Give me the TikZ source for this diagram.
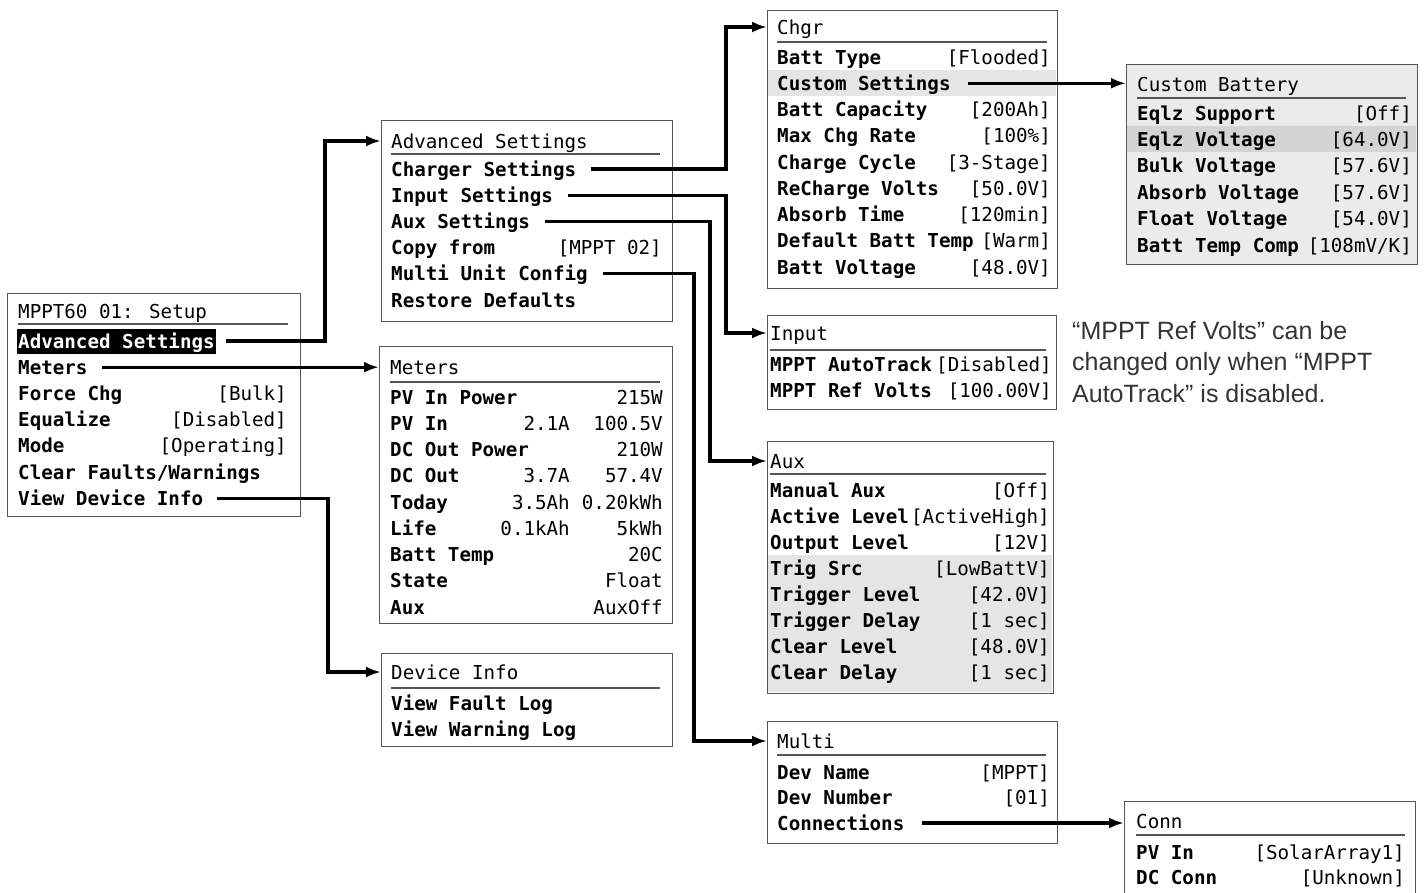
\documentclass[tikz,border=0pt]{standalone}
\usepackage{fontspec}
\usepackage{tikz}
\usetikzlibrary{arrows.meta}
\newfontfamily\lcdface{DejaVu Sans Mono}
\newfontfamily\noteface{Liberation Sans}
\newcommand{\lcdfont}{\lcdface\fontsize{19.2pt}{24pt}\selectfont}
\definecolor{frameGray}{HTML}{555555}
\definecolor{panelGray}{HTML}{EBEBEB}
\definecolor{bandGray}{HTML}{D4D4D4}
\definecolor{rowGray}{HTML}{E5E5E5}

\tikzset{
    lcd/.style={font=\lcdfont, inner sep=0pt, text height=14pt, text depth=0pt},
    ttl/.style={lcd, anchor=west, yshift=2pt},
    lbl/.style={lcd, anchor=west, font=\lcdfont\bfseries},
    val/.style={lcd, anchor=east},
    menubox/.style={draw=frameGray, line width=1.3pt, fill=white, anchor=north west, inner sep=0pt},
    rule/.style={draw=frameGray, line width=1.3pt},
    link/.style={line width=3.3pt, -{Latex[length=15pt,width=11pt]}},
    note/.style={anchor=north west, align=left, inner sep=0pt, text=black!80,
        font=\noteface\fontsize{25pt}{31.5pt}\selectfont},
}

\begin{document}
\begin{tikzpicture}[x=1pt, y=-1pt]
    \useasboundingbox (0,0) rectangle (1426,892);

    % menu frames
    \node[menubox, minimum width=293pt, minimum height=223pt] (setup) at (7,293) {};
    \node[menubox, minimum width=291pt, minimum height=201pt] (adv) at (381,120) {};
    \node[menubox, minimum width=293pt, minimum height=277pt] (meters) at (379,346) {};
    \node[menubox, minimum width=291pt, minimum height=93pt] (devinfo) at (381,653) {};
    \node[menubox, minimum width=290pt, minimum height=278pt] (chgr) at (767,10) {};
    \node[menubox, fill=panelGray, minimum width=291pt, minimum height=200pt] (custom) at (1126,64) {};
    \node[menubox, minimum width=289pt, minimum height=94pt] (input) at (767,315) {};
    \node[menubox, minimum width=286pt, minimum height=252pt] (aux) at (767,441) {};
    \node[menubox, minimum width=290pt, minimum height=122pt] (multi) at (767,721) {};
    \node[menubox, minimum width=291pt, minimum height=104pt] (conn) at (1124,801) {};

    % highlighted rows
    \fill[rowGray] (768,70) rectangle (1056,96);
    \fill[bandGray] (1127,126) rectangle (1416,152);
    \fill[rowGray] (768,555) rectangle (1052,692);

    % setup
    \node[ttl] (suttl) at (18,313) {MPPT60 01: Setup};
    \draw[rule] (18,324) -- (288,324);
    \node[lbl, fill=black, text=white, inner xsep=1.5pt, inner ysep=5.5pt] (su-1) at (16.5,341) {Advanced Settings};
    \foreach \lab/\val [count=\i from 2] in {Meters/, Force Chg/[Bulk], Equalize/[Disabled],
        Mode/[Operating], {Clear Faults/Warnings}/, View Device Info/} {
        \node[lbl] (su-\i) at (18,{341+26.2*(\i-1)}) {\lab};
        \node[val] at (287,{341+26.2*(\i-1)}) {\val};
    }

    % advanced settings
    \node[ttl] (advttl) at (391,143) {Advanced Settings};
    \draw[rule] (391,154) -- (660,154);
    \foreach \lab/\val [count=\i] in {Charger Settings/, Input Settings/, Aux Settings/,
        Copy from/[MPPT 02], Multi Unit Config/, Restore Defaults/} {
        \node[lbl] (adv-\i) at (391,{169+26.2*(\i-1)}) {\lab};
        \node[val] at (662,{169+26.2*(\i-1)}) {\val};
    }

    % meters
    \node[ttl] (metttl) at (390,369) {Meters};
    \draw[rule] (390,382) -- (660,382);
    \foreach \lab/\mid/\val [count=\i] in {PV In Power//215W, PV In/2.1A/100.5V,
        DC Out Power//210W, DC Out/3.7A/57.4V, Today/3.5Ah/0.20kWh, Life/0.1kAh/5kWh,
        Batt Temp//20C, State//Float, Aux//AuxOff} {
        \node[lbl] (met-\i) at (390,{397+26.25*(\i-1)}) {\lab};
        \node[val] at (570,{397+26.25*(\i-1)}) {\mid};
        \node[val] at (663,{397+26.25*(\i-1)}) {\val};
    }

    % device info
    \node[ttl] (devttl) at (391,674) {Device Info};
    \draw[rule] (391,688) -- (660,688);
    \node[lbl] (dev-1) at (391,703) {View Fault Log};
    \node[lbl] (dev-2) at (391,729) {View Warning Log};

    % charger
    \node[ttl] (chttl) at (777,29) {Chgr};
    \draw[rule] (777,42) -- (1047,42);
    \foreach \lab/\val [count=\i] in {Batt Type/[Flooded], Custom Settings/,
        Batt Capacity/[200Ah], Max Chg Rate/[100\%], Charge Cycle/[3-Stage],
        ReCharge Volts/[50.0V], Absorb Time/[120min], Default Batt Temp/[Warm],
        Batt Voltage/[48.0V]} {
        \node[lbl] (ch-\i) at (777,{57+26.25*(\i-1)}) {\lab};
        \node[val] at (1051,{57+26.25*(\i-1)}) {\val};
    }

    % custom battery
    \node[ttl] (custtl) at (1137,86) {Custom Battery};
    \draw[rule] (1137,98) -- (1406,98);
    \foreach \lab/\val [count=\i] in {Eqlz Support/[Off], Eqlz Voltage/[64.0V],
        Bulk Voltage/[57.6V], Absorb Voltage/[57.6V], Float Voltage/[54.0V],
        Batt Temp Comp/{[108mV/K]}} {
        \node[lbl] (cus-\i) at (1137,{113+26.4*(\i-1)}) {\lab};
        \node[val] at (1412,{113+26.4*(\i-1)}) {\val};
    }

    % input
    \node[ttl] (inpttl) at (770,335) {Input};
    \draw[rule] (770,350) -- (1046,350);
    \node[lbl] (inp-1) at (770,364) {MPPT AutoTrack};
    \node[val] at (1052,364) {[Disabled]};
    \node[lbl] (inp-2) at (770,390) {MPPT Ref Volts};
    \node[val] at (1052,390) {[100.00V]};
    \node[note] (hint) at (1072,321) {“MPPT Ref Volts” can be\\changed only when “MPPT\\AutoTrack” is disabled.};

    % aux
    \node[ttl] (auxttl) at (770,463) {Aux};
    \draw[rule] (770,474) -- (1046,474);
    \foreach \lab/\val [count=\i] in {Manual Aux/[Off], Active Level/[ActiveHigh],
        Output Level/[12V], Trig Src/[LowBattV], Trigger Level/[42.0V],
        Trigger Delay/[1 sec], Clear Level/[48.0V], Clear Delay/[1 sec]} {
        \node[lbl] (aux-\i) at (770,{490+26*(\i-1)}) {\lab};
        \node[val] at (1050,{490+26*(\i-1)}) {\val};
    }

    % multi unit
    \node[ttl] (multtl) at (777,743) {Multi};
    \draw[rule] (777,755) -- (1046,755);
    \foreach \lab/\val [count=\i] in {Dev Name/[MPPT], Dev Number/[01], Connections/} {
        \node[lbl] (mu-\i) at (777,{772+25.5*(\i-1)}) {\lab};
        \node[val] at (1050,{772+25.5*(\i-1)}) {\val};
    }

    % connections
    \node[ttl] (conttl) at (1136,823) {Conn};
    \draw[rule] (1136,835) -- (1405,835);
    \node[lbl] (con-1) at (1136,852) {PV In};
    \node[val] at (1405,852) {[SolarArray1]};
    \node[lbl] (con-2) at (1136,877) {DC Conn};
    \node[val] at (1405,877) {[Unknown]};

    % links
    \coordinate (jAdv) at (325,0);
    \coordinate (jDev) at (328,0);
    \coordinate (jChg) at (726,0);
    \coordinate (jAux) at (710,0);
    \coordinate (jMul) at (694,0);
    \draw[link] ([xshift=10pt]su-1.east) -| (jAdv |- advttl) -- (adv.west |- advttl);
    \draw[link] ([xshift=14pt]su-2.east) -- (meters.west |- su-2);
    \draw[link] ([xshift=14pt]su-7.east) -| (jDev |- devttl) -- (devinfo.west |- devttl);
    \draw[link] ([xshift=15pt]adv-1.east) -| (jChg |- chttl) -- (chgr.west |- chttl);
    \draw[link] ([xshift=15pt]adv-2.east) -| (jChg |- inpttl) -- (input.west |- inpttl);
    \draw[link] ([xshift=15pt]adv-3.east) -| (jAux |- auxttl) -- (aux.west |- auxttl);
    \draw[link] ([xshift=15pt]adv-5.east) -| (jMul |- multtl) -- (multi.west |- multtl);
    \draw[link] ([xshift=17pt]ch-2.east) -- (custom.west |- ch-2);
    \draw[link] ([xshift=17pt]mu-3.east) -- (conn.west |- mu-3);
\end{tikzpicture}
\end{document}
